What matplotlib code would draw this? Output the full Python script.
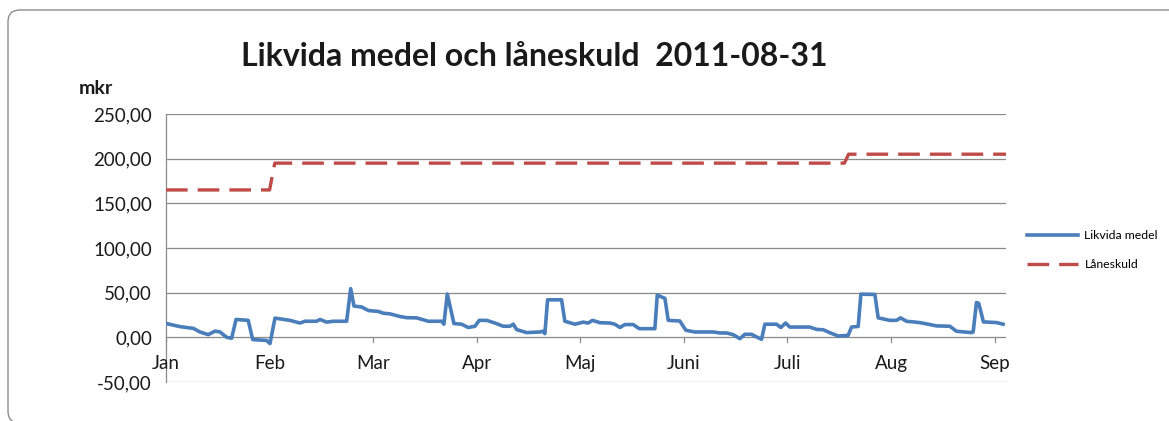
import matplotlib
matplotlib.use("Agg")
import matplotlib.pyplot as plt
from matplotlib.patches import FancyBboxPatch
from matplotlib.transforms import IdentityTransform

# ---- data (x in month units: 0=Jan, 1=Feb, ...) ----
months = ["Jan", "Feb", "Mar", "Apr", "Maj", "Juni", "Juli", "Aug", "Sep"]
likvida_x = [0.0, 0.135, 0.264, 0.328, 0.408, 0.473, 0.521, 0.586, 0.634, 0.676, 0.794, 0.837, 0.972, 1.004,
             1.052, 1.197, 1.293, 1.342, 1.455, 1.486, 1.551, 1.615, 1.744, 1.783, 1.815, 1.889, 1.953,
             2.049, 2.098, 2.162, 2.259, 2.323, 2.420, 2.532, 2.661, 2.683, 2.716, 2.780, 2.854, 2.918,
             2.983, 3.024, 3.096, 3.176, 3.256, 3.320, 3.353, 3.385, 3.482, 3.610, 3.636, 3.658, 3.684,
             3.819, 3.851, 3.948, 4.028, 4.076, 4.118, 4.189, 4.286, 4.334, 4.382, 4.431, 4.511, 4.569,
             4.720, 4.743, 4.817, 4.849, 4.961, 5.019, 5.106, 5.283, 5.347, 5.412, 5.476, 5.541, 5.589,
             5.653, 5.702, 5.750, 5.782, 5.895, 5.936, 5.982, 6.023, 6.216, 6.281, 6.345, 6.409, 6.490,
             6.586, 6.619, 6.683, 6.709, 6.844, 6.876, 6.988, 7.053, 7.092, 7.149, 7.278, 7.375, 7.439,
             7.568, 7.632, 7.777, 7.793, 7.825, 7.847, 7.892, 8.021, 8.082]
likvida_y = [15.5, 12.0, 10.0, 6.0, 3.0, 7.0, 6.0, 0.0, -1.0, 20.0, 19.0, -2.5, -3.5, -7.0,
             21.5, 19.0, 16.0, 18.0, 18.0, 20.0, 17.0, 18.0, 18.0, 54.5, 35.0, 34.0, 30.0,
             29.0, 27.0, 26.3, 23.3, 22.0, 21.8, 18.0, 18.0, 14.7, 48.5, 15.4, 14.7, 11.0,
             12.4, 19.0, 19.0, 16.0, 12.4, 12.4, 14.7, 8.7, 5.3, 6.0, 6.8, 4.2, 42.0,
             42.0, 18.0, 14.7, 17.0, 16.0, 19.0, 16.4, 16.0, 14.7, 11.0, 14.3, 14.3, 9.7,
             9.7, 47.3, 43.6, 19.0, 18.3, 7.9, 6.0, 6.0, 4.9, 4.9, 3.0, -1.5, 3.4,
             3.4, 0.4, -2.2, 14.7, 14.7, 11.0, 16.0, 11.5, 11.5, 8.9, 8.5, 5.2, 1.5,
             2.2, 11.5, 12.2, 48.3, 48.0, 21.8, 19.0, 19.0, 21.8, 18.0, 16.5, 14.3, 12.8,
             12.4, 6.8, 5.3, 6.0, 39.0, 38.0, 17.3, 16.5, 14.7]
laneskuld_x = [0.0, 1.0, 1.05, 6.55, 6.59, 8.11]
laneskuld_y = [165, 165, 195, 195, 205, 205]
yticks = [-50, 0, 50, 100, 150, 200, 250]
ytick_labels = ["-50,00", "0,00", "50,00", "100,00", "150,00", "200,00", "250,00"]

FONT = ["Lato", "DejaVu Sans"]
plt.rcParams["font.family"] = FONT

W, H = 1169, 421
fig = plt.figure(figsize=(W / 100, H / 100), dpi=100)
fig.patch.set_facecolor("white")

# outer rounded frame (display pixel coords, origin bottom-left)
frame = FancyBboxPatch((8, -2), 1200, H - 10 + 2,
                       boxstyle="round,pad=0,rounding_size=12",
                       transform=IdentityTransform(), fill=False,
                       edgecolor="#8c8c8c", linewidth=1.0)
fig.patches.append(frame)

ax = fig.add_axes([166 / W, 1 - 382 / H, (1006 - 166) / W, (382 - 114) / H])
ax.set_xlim(0, 8.11)
ax.set_ylim(-50, 250)

for yv in yticks:
    ax.axhline(yv, color="#8a8a8a", linewidth=0.9, zorder=1)

ax.plot(likvida_x, likvida_y, color="#4A7EBB", linewidth=2.6, label="Likvida medel",
        zorder=3, solid_joinstyle="round")
ax.plot(laneskuld_x, laneskuld_y, color="#BE4B48", linewidth=2.4, dashes=(6.5, 3),
        label="Låneskuld", zorder=3)

for s in ["top", "right", "bottom"]:
    ax.spines[s].set_visible(False)
ax.spines["left"].set_color("#8a8a8a")
ax.spines["left"].set_linewidth(0.9)

ax.set_yticks(yticks)
ax.set_yticklabels(ytick_labels, fontsize=13.5, color="#1a1a1a")
ax.tick_params(axis="y", length=0, pad=10)

ax.set_xticks([])
# month ticks on the zero line
for i, m in enumerate(months):
    ax.plot([i, i], [0, -5.5], color="#8a8a8a", linewidth=0.9, zorder=1, clip_on=False)
    ax.text(i, -29, m, ha="center", va="center", fontsize=13.5, color="#1a1a1a")

fig.text(534 / W, 1 - 56 / H, "Likvida medel och låneskuld  2011-08-31",
         ha="center", va="center", fontsize=23, fontweight="bold", color="#1a1a1a")
fig.text(96 / W, 1 - 88 / H, "mkr", ha="center", va="center", fontsize=14,
         fontweight="bold", color="#1a1a1a")

leg = ax.legend(loc="center left", frameon=False, fontsize=8.8,
                handlelength=4.2, labelspacing=1.5, handletextpad=0.5)
leg.set_bbox_to_anchor((1016 / W, 1 - 250 / H), transform=fig.transFigure)

fig.savefig("out.png", dpi=100)
